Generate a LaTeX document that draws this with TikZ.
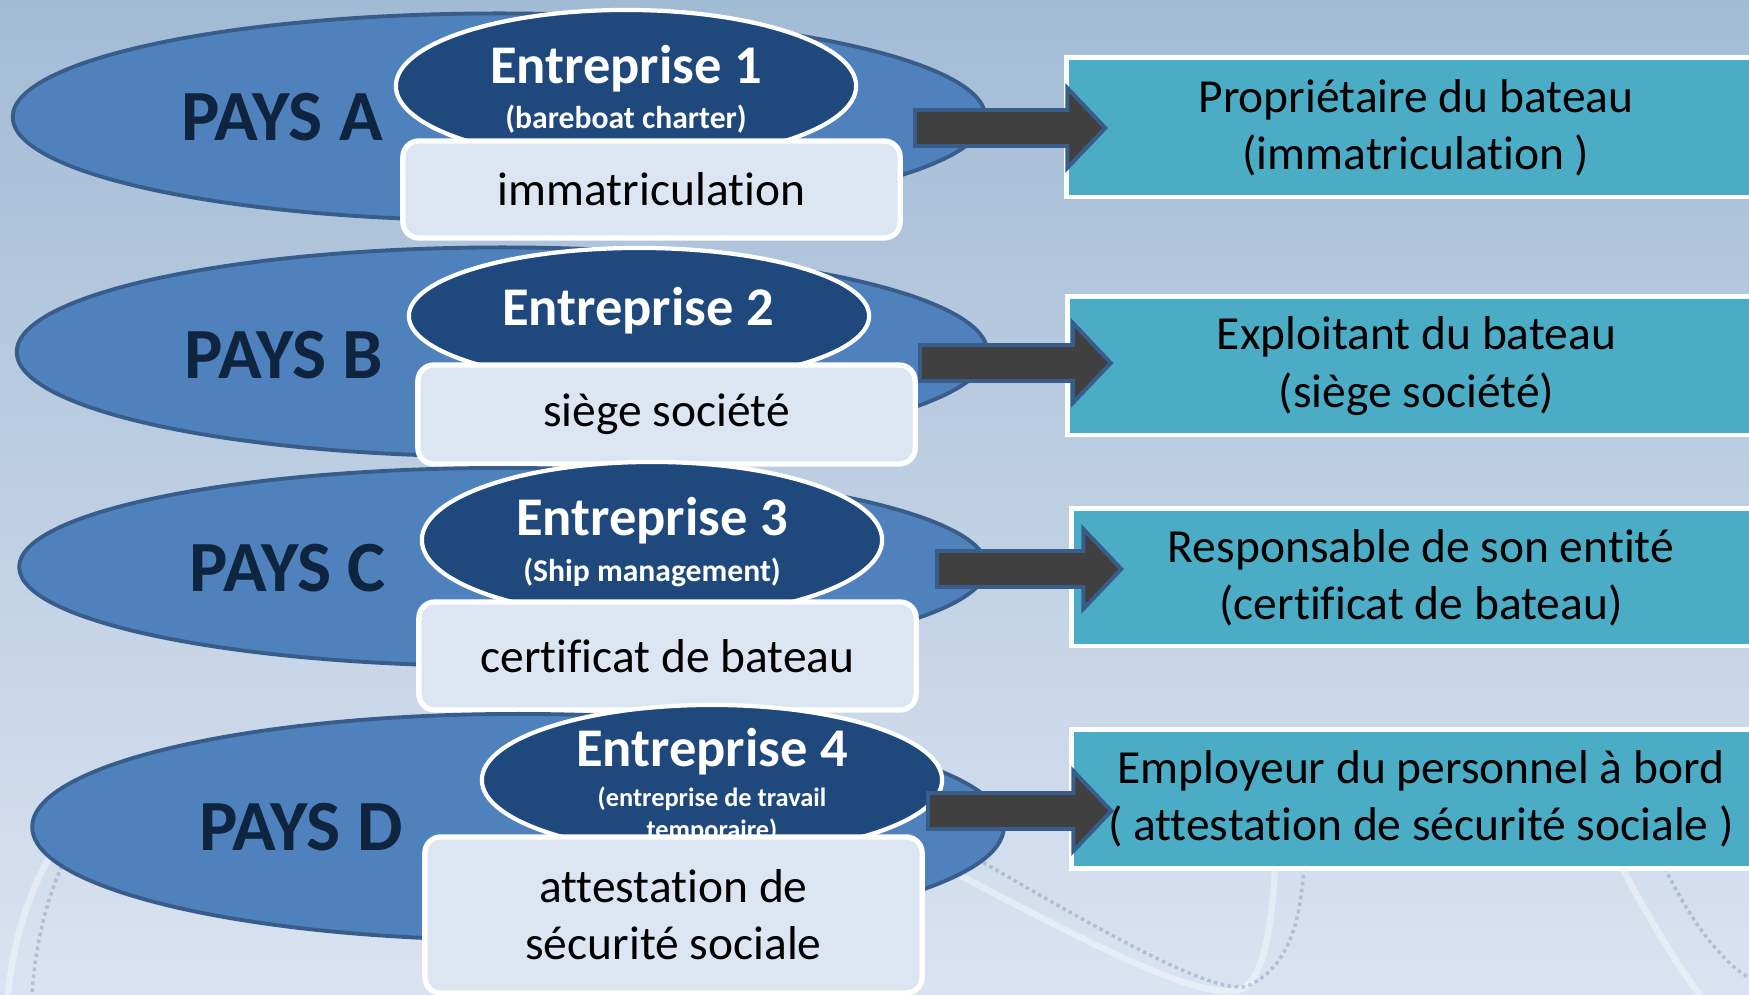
\documentclass[tikz,border=0pt]{standalone}
\usepackage{fontspec}
\setmainfont{Carlito}[Ligatures={NoCommon,NoRequired,NoContextual}]
\usepackage{tikz}
\usetikzlibrary{calc}
\usetikzlibrary{shapes.geometric}

\definecolor{fondhaut}{RGB}{162,187,213}
\definecolor{fondmilieu}{RGB}{181,201,226}
\definecolor{fondbas}{RGB}{218,227,241}
\definecolor{bleupays}{RGB}{79,129,189}
\definecolor{bordpays}{RGB}{56,93,138}
\definecolor{bleuentreprise}{RGB}{31,73,125}
\definecolor{textepays}{RGB}{15,36,62}
\definecolor{fonddoc}{RGB}{220,230,242}
\definecolor{cyanrole}{RGB}{75,172,198}
\definecolor{grisfleche}{RGB}{64,64,64}

\tikzset{
	pays/.style={ellipse,draw=bordpays,fill=bleupays,line width=1.1pt,inner sep=0pt},
	paystexte/.style={text=textepays,font=\fontsize{20.5}{24}\selectfont\bfseries},
	entreprise/.style={ellipse,draw=white,fill=bleuentreprise,line width=1.2pt,inner sep=0pt,minimum width=4.6cm},
	titre/.style={text=white,font=\fontsize{15.5}{18}\selectfont\bfseries},
	soustitre/.style={text=white,align=center,font=\fontsize{9}{11}\selectfont\bfseries},
	doc/.style={rectangle,rounded corners=0.16cm,draw=white,fill=fonddoc,line width=1.5pt,minimum width=4.97cm,align=center,font=\fontsize{13.5}{16.3}\selectfont},
	role/.style={rectangle,draw=white,fill=cyanrole,line width=1.4pt,minimum width=6.98cm,align=center,font=\fontsize{13.5}{16.3}\selectfont},
	fleche/.style={draw=bordpays,fill=grisfleche,line width=1.1pt,line join=miter},
	deco/.style={white,opacity=0.4,line width=1.8pt},
	decopoint/.style={bordpays,opacity=0.25,line width=1pt,densely dotted}
}

\newcommand{\fleche}[2]{%
	\draw [fleche] ($(#1)+(0,-18)$) -- ($(#2)+(-38,-18)$) -- ($(#2)+(-38,-40)$) -- (#2)
		-- ($(#2)+(-38,40)$) -- ($(#2)+(-38,18)$) -- ($(#1)+(0,18)$) -- cycle;
}

\begin{document}
\begin{tikzpicture}[x=0.01cm,y=-0.01cm]
		\shade [top color=fondhaut,middle color=fondmilieu,bottom color=fondbas] (0,0) rectangle (1749,995);
		\useasboundingbox (0,0) rectangle (1749,995);

		\draw [deco] (50,856) .. controls (25,900) and (12,950) .. (8,995);
		\draw [decopoint] (62,866) .. controls (42,910) and (34,960) .. (32,995);
		\draw [deco] (935,862) .. controls (1100,950) and (1200,1000) .. (1240,990) .. controls (1265,980) and (1272,920) .. (1275,868);
		\draw [decopoint] (965,852) .. controls (1100,930) and (1220,1000) .. (1250,985) .. controls (1290,965) and (1300,920) .. (1304,868);
		\draw [deco] (1622,868) .. controls (1650,920) and (1680,970) .. (1700,995);
		\draw [decopoint] (1665,868) .. controls (1690,920) and (1720,960) .. (1749,978);

		\node [pays,minimum width=9.72cm,minimum height=2.07cm] (paysA) at (499,117) {};
		\node [paystexte] (paysAt) at (282,117) {PAYS A};
		\node [entreprise,minimum height=1.52cm] (entA) at (626,86) {};
		\node [titre] (titreA) at (626,69) {Entreprise 1};
		\node [soustitre] (soustitreA) at (626,119) {(bareboat charter)};
		\node [doc,minimum height=0.97cm] (docA) at (651.5,189.5) {immatriculation};

		\node [pays,minimum width=9.70cm,minimum height=2.09cm] (paysB) at (502,352) {};
		\node [paystexte] (paysBt) at (284,355) {PAYS B};
		\node [entreprise,minimum height=1.36cm] (entB) at (639,316) {};
		\node [titre] (titreB) at (638,311) {Entreprise 2};
		\node [doc,minimum height=0.99cm] (docB) at (666.5,414.5) {siège société};

		\node [pays,minimum width=9.67cm,minimum height=1.98cm] (paysC) at (503,567) {};
		\node [paystexte] (paysCt) at (288,568) {PAYS C};
		\node [entreprise,minimum height=1.56cm] (entC) at (652,540) {};
		\node [titre] (titreC) at (652,521) {Entreprise 3};
		\node [soustitre] (soustitreC) at (652,572) {(Ship management)};
		\node [doc,minimum height=1.08cm] (docC) at (667.5,656) {certificat de bateau};

		\node [pays,minimum width=9.71cm,minimum height=2.26cm] (paysD) at (518,827) {};
		\node [paystexte] (paysDt) at (301,827) {PAYS D};
		\node [entreprise,minimum height=1.50cm] (entD) at (712,780) {};
		\node [titre] (titreD) at (712,752) {Entreprise 4};
		\node [soustitre,font=\fontsize{7.5}{9}\selectfont\bfseries] (soustitreD) at (712,815) {(entreprise de travail\\temporaire)};
		\node [doc,minimum height=1.56cm] (docD) at (673.5,915) {attestation de\\sécurité sociale};

		\node [role,minimum height=1.39cm] (roleA) at (1416,127.5) {Propriétaire du bateau\\(immatriculation )};
		\node [role,minimum height=1.38cm] (roleB) at (1416.5,366) {Exploitant du bateau\\(siège société)};
		\node [role,minimum height=1.37cm] (roleC) at (1421,577.5) {Responsable de son entité\\(certificat de bateau)};
		\node [role,minimum height=1.38cm] (roleD) at (1421,799) {Employeur du personnel à bord\\( attestation de sécurité sociale )};

		\coordinate (departA) at (915,128);
		\coordinate (departB) at (920,363);
		\coordinate (departC) at (937,569);
		\coordinate (departD) at (928,811);
		\coordinate (pointeA) at ($(departA -| roleA.west)+(41,0)$);
		\coordinate (pointeB) at ($(departB -| roleB.west)+(46,0)$);
		\coordinate (pointeC) at ($(departC -| roleC.west)+(52,0)$);
		\coordinate (pointeD) at ($(departD -| roleD.west)+(42,0)$);
		\fleche{departA}{pointeA}
		\fleche{departB}{pointeB}
		\fleche{departC}{pointeC}
		\fleche{departD}{pointeD}
	\end{tikzpicture}
\end{document}
